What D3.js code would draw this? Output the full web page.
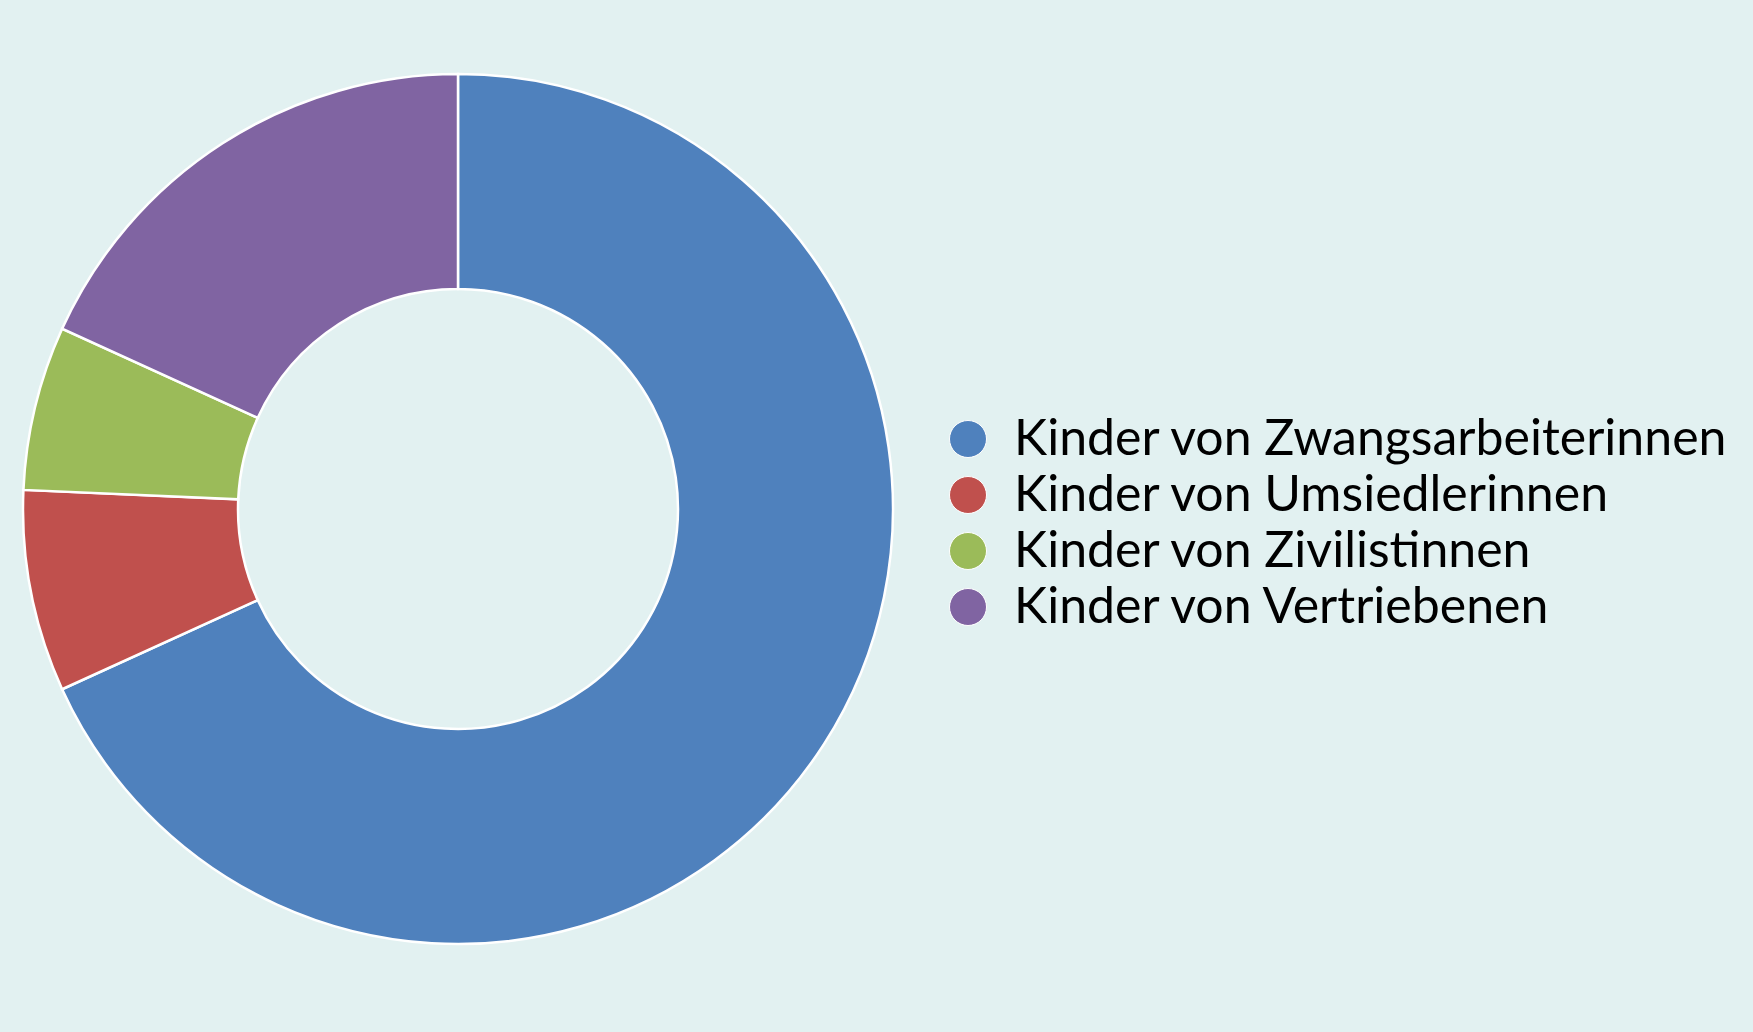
<!DOCTYPE html>
<html lang="de">
<head>
<meta charset="UTF-8" />
<title>Kinder</title>
<script src="https://d3js.org/d3.v7.min.js"></script>
<style>
  body { margin: 0; background: #e2f1f1; }
  svg { display: block; }
  .legend text { font-family: Lato, "Open Sans", sans-serif; font-size: 50px; fill: #000; }
</style>
</head>
<body>
<script>
// values (share in percent)
var categories = ["Kinder von Zwangsarbeiterinnen", "Kinder von Umsiedlerinnen", "Kinder von Zivilistinnen", "Kinder von Vertriebenen"];
var values = [68.2, 7.5, 6.1, 18.2];
var colors = ["#4f81bd", "#c0504d", "#9bbb59", "#8064a2"];

var width = 1753, height = 1032;
var cx = 458, cy = 509;
var outer = 435, inner = 220;

var svg = d3.select("body").append("svg")
  .attr("width", width)
  .attr("height", height);

var data = categories.map(function(c, i) { return { name: c, value: values[i] }; });

var pie = d3.pie()
  .sort(null)
  .value(function(d) { return d.value; });

var arc = d3.arc()
  .innerRadius(inner)
  .outerRadius(outer);

var color = d3.scaleOrdinal().domain(categories).range(colors);

svg.append("g")
  .attr("transform", "translate(" + cx + "," + cy + ")")
  .selectAll("path")
  .data(pie(data))
  .enter().append("path")
    .attr("d", arc)
    .attr("fill", function(d) { return color(d.data.name); })
    .attr("stroke", "#fff")
    .attr("stroke-width", 2.5);

// legend
var legend = svg.append("g")
  .attr("class", "legend")
  .attr("transform", "translate(968,439)")
  .selectAll("g")
  .data(categories)
  .enter().append("g")
    .attr("transform", function(d, i) { return "translate(0," + i * 56 + ")"; });

legend.append("circle")
  .attr("r", 18.5)
  .attr("fill", function(d) { return color(d); })
  .attr("stroke", "#fff")
  .attr("stroke-width", 1);

legend.append("text")
  .attr("x", 46)
  .attr("y", 16)
  .text(function(d) { return d; });
</script>
</body>
</html>
